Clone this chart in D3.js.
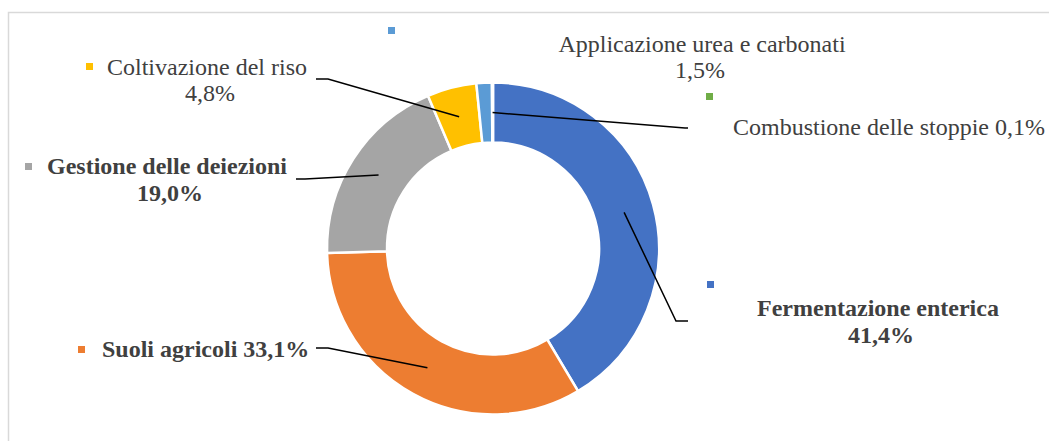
<!DOCTYPE html>
<html>
<head>
<meta charset="utf-8">
<script src="https://cdn.jsdelivr.net/npm/d3@7"></script>
<style>
  html, body { margin: 0; padding: 0; background: #fff; }
  svg { display: block; }
  .lbl { font-family: "Liberation Serif", "Times New Roman", serif; font-size: 24px; fill: #404040; }
  .bold { font-weight: bold; }
</style>
</head>
<body>
<div id="chart"></div>
<script>
// dati (quote %)
const categories = ["Fermentazione enterica", "Suoli agricoli", "Gestione delle deiezioni",
  "Coltivazione del riso", "Applicazione urea e carbonati", "Combustione delle stoppie"];
const values = [41.4, 33.1, 19.0, 4.8, 1.5, 0.1];
const valueLabels = ["41,4%", "33,1%", "19,0%", "4,8%", "1,5%", "0,1%"];
const colors = ["#4472C4", "#ED7D31", "#A5A5A5", "#FFC000", "#5B9BD5", "#70AD47"];

// posizione etichette (layout)
const labelLayout = [
  { bold: true, marker: [707, 281], lines: [{ t: "cat", x: 878, y: 316, a: "middle" }, { t: "val", x: 881, y: 343, a: "middle" }],
    leader: [[676, 321], [688, 321]] },
  { bold: true, marker: [78, 346], lines: [{ t: "both", x: 102, y: 357, a: "start" }],
    leader: [[328, 348], [316, 348]] },
  { bold: true, marker: [25, 163], lines: [{ t: "cat", x: 167, y: 174, a: "middle" }, { t: "val", x: 170, y: 201, a: "middle" }],
    leader: [[305, 179], [296, 179]] },
  { bold: false, marker: [86, 63], lines: [{ t: "cat", x: 207, y: 75, a: "middle" }, { t: "val", x: 210, y: 101, a: "middle" }],
    leader: [[328, 79], [316, 79]] },
  { bold: false, marker: [388, 27], lines: [{ t: "cat", x: 702, y: 52, a: "middle" }, { t: "val", x: 700, y: 78, a: "middle" }],
    leader: null },
  { bold: false, marker: [706, 93], lines: [{ t: "both", x: 733, y: 135, a: "start" }],
    leader: [[685, 128], [688, 128]] }
];

const width = 1049, height = 441;
const cx = 493, cy = 248.5, outerR = 166, innerR = 106;

const svg = d3.select("#chart").append("svg")
  .attr("width", width)
  .attr("height", height);

// cornice
svg.append("rect")
  .attr("x", 8.5).attr("y", 12.5)
  .attr("width", 1100).attr("height", 500)
  .attr("fill", "none")
  .attr("stroke", "#D9D9D9")
  .attr("stroke-width", 1.5);

const data = categories.map((c, i) => ({ cat: c, value: values[i], label: valueLabels[i], color: colors[i], layout: labelLayout[i] }));

const pie = d3.pie().sort(null).value(d => d.value);
const arc = d3.arc().innerRadius(innerR).outerRadius(outerR);
const arcs = pie(data);

const g = svg.append("g").attr("transform", `translate(${cx},${cy})`);

g.selectAll("path.slice")
  .data(arcs)
  .enter()
  .append("path")
  .attr("class", "slice")
  .attr("d", arc)
  .attr("fill", d => d.data.color)
  .attr("stroke", "#fff")
  .attr("stroke-width", 2.5);

// linee guida
const line = d3.line();
arcs.forEach(d => {
  const lay = d.data.layout;
  if (!lay.leader) return;
  const c = arc.centroid(d);
  const pts = [[cx + c[0], cy + c[1]]].concat(lay.leader);
  svg.append("path")
    .attr("d", line(pts))
    .attr("fill", "none")
    .attr("stroke", "#000")
    .attr("stroke-width", 1.5);
});

// etichette
arcs.forEach(d => {
  const lay = d.data.layout;
  svg.append("rect")
    .attr("x", lay.marker[0]).attr("y", lay.marker[1])
    .attr("width", 7).attr("height", 7)
    .attr("fill", d.data.color);
  lay.lines.forEach(l => {
    const txt = l.t === "cat" ? d.data.cat : l.t === "val" ? d.data.label : d.data.cat + " " + d.data.label;
    svg.append("text")
      .attr("class", "lbl" + (lay.bold ? " bold" : ""))
      .attr("x", l.x).attr("y", l.y)
      .attr("text-anchor", l.a)
      .text(txt);
  });
});
</script>
</body>
</html>
